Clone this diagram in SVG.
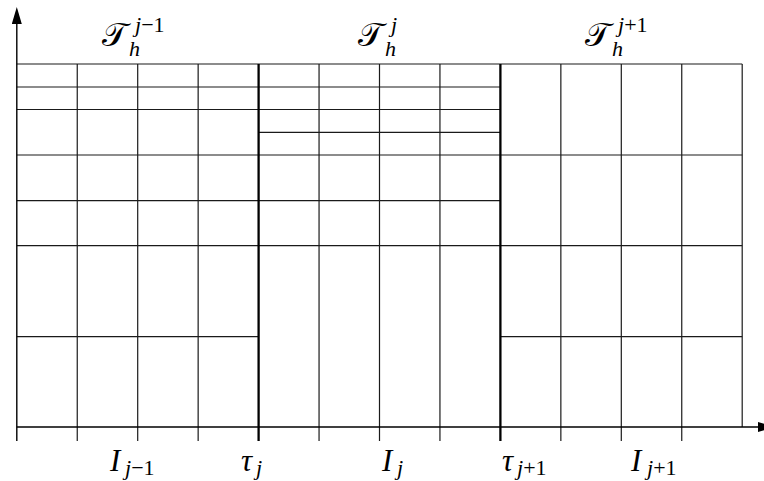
<svg xmlns="http://www.w3.org/2000/svg" width="764" height="481" viewBox="0 0 764 481">
<style>
.g{stroke:#1a1a1a;stroke-width:1.2;fill:none}
.t{stroke:#000;stroke-width:2.3;fill:none}
.ax{stroke:#000;stroke-width:1.4;fill:none}
.m{font-family:"Liberation Serif","DejaVu Serif",serif;fill:#000}
.cal{font-family:"DejaVu Serif","DejaVu Sans","Noto Sans",serif;font-size:33px;font-style:normal}
.i{font-style:italic}
.u{font-style:normal}
.big{font-size:31px}
.sm{font-size:22px}
</style>
<defs>
<marker id="arr" viewBox="0 0 17 10" refX="0" refY="5" markerWidth="17" markerHeight="10" markerUnits="userSpaceOnUse" orient="auto">
<path d="M0,0 L17,5 L0,10 z" fill="#000"/>
</marker>
</defs>
<rect width="764" height="481" fill="#fff"/>
<g id="grid">
<line class="g" x1="77.25" y1="64" x2="77.25" y2="441"/>
<line class="g" x1="137.7" y1="64" x2="137.7" y2="441"/>
<line class="g" x1="198.15" y1="64" x2="198.15" y2="441"/>
<line class="g" x1="319.05" y1="64" x2="319.05" y2="441"/>
<line class="g" x1="379.5" y1="64" x2="379.5" y2="441"/>
<line class="g" x1="439.95" y1="64" x2="439.95" y2="441"/>
<line class="g" x1="560.85" y1="64" x2="560.85" y2="441"/>
<line class="g" x1="621.3" y1="64" x2="621.3" y2="441"/>
<line class="g" x1="681.75" y1="64" x2="681.75" y2="441"/>
<line class="g" x1="742.2" y1="64" x2="742.2" y2="427"/>
<line class="g" x1="16.8" y1="64" x2="742.2" y2="64"/>
<line class="g" x1="16.8" y1="87" x2="500.4" y2="87"/>
<line class="g" x1="16.8" y1="109.5" x2="500.4" y2="109.5"/>
<line class="g" x1="258.6" y1="132.3" x2="500.4" y2="132.3"/>
<line class="g" x1="16.8" y1="155" x2="742.2" y2="155"/>
<line class="g" x1="16.8" y1="200.7" x2="500.4" y2="200.7"/>
<line class="g" x1="16.8" y1="245.7" x2="742.2" y2="245.7"/>
<line class="g" x1="16.8" y1="336.7" x2="258.6" y2="336.7"/>
<line class="g" x1="500.4" y1="336.7" x2="742.2" y2="336.7"/>
<line class="t" x1="258.6" y1="64" x2="258.6" y2="441"/>
<line class="t" x1="500.4" y1="64" x2="500.4" y2="441"/>
</g>
<g id="axes">
<line class="ax" x1="16.8" y1="441" x2="16.8" y2="24" marker-end="url(#arr)"/>
<line class="ax" x1="16.8" y1="427" x2="758" y2="427" marker-end="url(#arr)"/>
</g>
<g id="top-labels" class="m">
<text id="T-jm1"><tspan class="cal" x="102" y="46">𝒯</tspan><tspan class="i sm" x="129" y="56">h</tspan><tspan class="i sm" x="135" y="32">j</tspan><tspan class="u sm">−1</tspan></text>
<text id="T-j"><tspan class="cal" x="358" y="46">𝒯</tspan><tspan class="i sm" x="385" y="56">h</tspan><tspan class="i sm" x="391" y="32">j</tspan></text>
<text id="T-jp1"><tspan class="cal" x="585" y="46">𝒯</tspan><tspan class="i sm" x="612" y="56">h</tspan><tspan class="i sm" x="618" y="32">j</tspan><tspan class="u sm">+1</tspan></text>
</g>
<g id="bottom-labels" class="m">
<text id="I-jm1"><tspan class="i big" x="110" y="471">I</tspan><tspan class="i sm" x="125" y="475">j</tspan><tspan class="u sm">−1</tspan></text>
<text id="tau-j"><tspan class="i big" x="241" y="471">τ</tspan><tspan class="i sm" x="256" y="475">j</tspan></text>
<text id="I-j"><tspan class="i big" x="382" y="471">I</tspan><tspan class="i sm" x="397" y="475">j</tspan></text>
<text id="tau-jp1"><tspan class="i big" x="502" y="471">τ</tspan><tspan class="i sm" x="517" y="475">j</tspan><tspan class="u sm">+1</tspan></text>
<text id="I-jp1"><tspan class="i big" x="631" y="471">I</tspan><tspan class="i sm" x="647" y="475">j</tspan><tspan class="u sm">+1</tspan></text>
</g>
</svg>
